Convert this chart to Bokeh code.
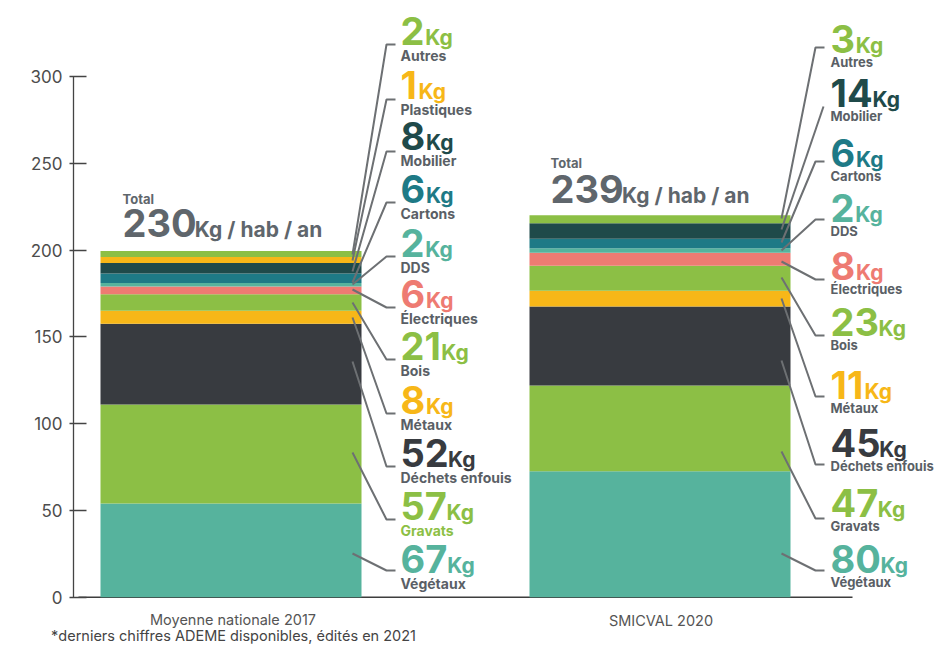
from bokeh.plotting import figure
from bokeh.models import Range1d, LinearAxis, FixedTicker, ColumnDataSource
from bokeh.core.properties import value
from bokeh.embed import file_html
from bokeh.resources import INLINE

# ---------------- data ----------------
group_labels = ["Moyenne nationale 2017", "SMICVAL 2020"]
footnote = "*derniers chiffres ADEME disponibles, édités en 2021"
y_ticks = [0, 50, 100, 150, 200, 250, 300]

# stacked bottom -> top
categories_2017 = ["Végétaux", "Gravats", "Déchets enfouis", "Métaux", "Bois",
                   "Électriques", "DDS", "Cartons", "Mobilier", "Plastiques", "Autres"]
heights_2017 = [54, 57, 46.5, 7.5, 9.5, 4.5, 2, 5.5, 6, 3.5, 3.5]   # drawn heights
labels_2017 = [67, 57, 52, 8, 21, 6, 2, 6, 8, 1, 2]                  # printed Kg
total_2017 = 230

categories_2020 = ["Végétaux", "Gravats", "Déchets enfouis", "Métaux", "Bois",
                   "Électriques", "DDS", "Cartons", "Mobilier", "Autres"]
heights_2020 = [72.5, 49.5, 45.5, 9, 14.5, 7.5, 2.5, 5.5, 9, 4.5]
labels_2020 = [80, 47, 45, 11, 23, 8, 2, 6, 14, 3]
total_2020 = 239

COLORS = {
    "Végétaux": "#56b39d", "Gravats": "#8cbf45", "Déchets enfouis": "#383b40",
    "Métaux": "#f7b718", "Bois": "#8cbf45", "Électriques": "#ee7b72",
    "DDS": "#56b39d", "Cartons": "#1e7a86", "Mobilier": "#1f4a4a",
    "Plastiques": "#f7b718", "Autres": "#8cbf45",
}

# ---------------- layout (page pixels) ----------------
W, H = 935, 646
LEFT = 73
FB = 630                     # expected frame bottom (page px)
Y_ZERO_PX, PX_PER_UNIT = 596.7, 1.7357
FONT = value("Inter")
GRAY = "#5f666c"
NAME_GRAY = "#5a5f66"
LEADER = "#6d7073"
BASE_SHIFT = 0.39   # compensation of the renderer's baseline placement (em)


def vy(page_y):
    """page pixel y -> data value"""
    return (Y_ZERO_PX - page_y) / PX_PER_UNIT


def ty(page_baseline, fs):
    return vy(page_baseline - BASE_SHIFT * fs)


DIGIT_W = {"0": 0.64, "1": 0.42, "2": 0.60, "3": 0.61, "4": 0.63, "5": 0.60,
           "6": 0.62, "7": 0.56, "8": 0.62, "9": 0.62}


def text_w(s, fs):
    return sum(DIGIT_W.get(c, 0.6) for c in s) * fs


bars = [
    dict(cats=categories_2017, h=heights_2017, lab=labels_2017, total=total_2017,
         xc=230.5, w=261, tx=400, label_x=232.5, label_y=625,
         num_y=[573, 520, 467, 414, 360, 308, 257, 203, 150, 99, 45],
         name_dy=15, name_fs=14,
         hook_y=[570, 519, 466, 413, 359, 307, 256, 202, 151, 99, 44],
         end_y=[553, 452, 361, 317, 302, 289, 284, 282, 271, 260, 254],
         bx=352, cx=386, hx=395,
         total_pos=(122, 204, 237), name_colors={"Gravats": "#8cbf45"}),
    dict(cats=categories_2020, h=heights_2020, lab=labels_2020, total=total_2020,
         xc=659.5, w=261, tx=830, label_x=660.5, label_y=626,
         num_y=[573, 517, 457, 399, 336, 280, 222, 167, 107, 53],
         name_dy=14, name_fs=13,
         hook_y=[570, 518, 464, 396, 335, 279, 219, 161, None, 47],
         end_y=[553, 451, 360, 298, 277, 261, 250, 242, 229, 218],
         bx=781, cx=815, hx=824,
         total_pos=(550, 168, 203), name_colors={}),
]

p = figure(width=W, height=H, output_backend="svg", toolbar_location=None,
           x_range=Range1d(LEFT, W), y_range=Range1d(vy(FB), vy(0)),
           x_axis_location=None, y_axis_location=None,
           min_border_left=LEFT, min_border_right=0, min_border_top=0, min_border_bottom=0)
p.outline_line_color = None
p.xgrid.visible = False
p.ygrid.visible = False
p.background_fill_color = "white"
p.border_fill_color = "white"

yaxis = LinearAxis(ticker=FixedTicker(ticks=y_ticks), bounds=(0, 300))
yaxis.axis_line_color = "#444444"
yaxis.axis_line_width = 1.3
yaxis.major_tick_line_color = "#444444"
yaxis.major_tick_line_width = 1.3
yaxis.major_tick_in = 13
yaxis.major_tick_out = 4
yaxis.minor_tick_line_color = None
yaxis.major_label_standoff = 7
yaxis.major_label_text_font = "Inter"
yaxis.major_label_text_font_size = "17px"
yaxis.major_label_text_color = "#4d4d4d"
p.add_layout(yaxis, "left")

# footnote, drawn as the single label of a bare axis below the frame
fax = LinearAxis(ticker=FixedTicker(ticks=[233]), major_label_overrides={233: footnote})
fax.axis_line_color = None
fax.major_tick_line_color = None
fax.minor_tick_line_color = None
fax.major_tick_in = 0
fax.major_tick_out = 0
fax.major_label_standoff = -4
fax.major_label_text_font = "Inter"
fax.major_label_text_font_size = "14.5px"
fax.major_label_text_color = "#444444"
p.add_layout(fax, "below")

# baseline
p.segment(x0=[78], y0=[0], x1=[852], y1=[0], line_color="#3d3d3d", line_width=1.5)

for b in bars:
    bottoms, tops, acc = [], [], 0
    for hh in b["h"]:
        bottoms.append(acc)
        acc += hh
        tops.append(acc)
    src = ColumnDataSource(dict(x=[b["xc"]] * len(b["cats"]), bottom=bottoms, top=tops,
                                color=[COLORS[c] for c in b["cats"]]))
    p.vbar(x="x", width=b["w"], bottom="bottom", top="top", fill_color="color",
           line_color=None, source=src)

    # leaders
    xs, ys = [], []
    for hy, ey in zip(b["hook_y"], b["end_y"]):
        if hy is None:
            xs.append([b["hx"] - 1, b["bx"]])
            ys.append([vy(106), vy(ey)])
        else:
            xs.append([b["hx"], b["cx"], b["bx"]])
            ys.append([vy(hy), vy(hy), vy(ey)])
    p.multi_line(xs=xs, ys=ys, line_color=LEADER, line_width=2)

    # labels
    nums = [str(v) for v in b["lab"]]
    num_fs = 38
    colors = [COLORS[c] for c in b["cats"]]
    p.text(x=[b["tx"]] * len(nums), y=[ty(v, num_fs) for v in b["num_y"]], text=nums,
           text_color=colors, text_font=FONT, text_font_style="bold",
           text_font_size=f"{num_fs}px", text_baseline="alphabetic", text_align="left")
    p.text(x=[b["tx"] + text_w(n, num_fs) + 2 for n in nums],
           y=[ty(v, 21) for v in b["num_y"]], text=["Kg"] * len(nums),
           text_color=colors, text_font=FONT, text_font_style="bold",
           text_font_size="21px", text_baseline="alphabetic", text_align="left")
    nfs = b["name_fs"]
    p.text(x=[b["tx"]] * len(nums), y=[ty(v + b["name_dy"], nfs) for v in b["num_y"]],
           text=b["cats"], text_color=[b["name_colors"].get(c, NAME_GRAY) for c in b["cats"]],
           text_font=FONT, text_font_style="bold", text_font_size=f"{nfs}px",
           text_baseline="alphabetic", text_align="left")

    # totals
    tx, ty1, ty2 = b["total_pos"]
    tot = str(b["total"])
    p.text(x=[tx], y=[ty(ty1, 13)], text=["Total"], text_color=GRAY, text_font=FONT,
           text_font_style="bold", text_font_size="13px", text_baseline="alphabetic")
    p.text(x=[tx], y=[ty(ty2, 38)], text=[tot], text_color=GRAY, text_font=FONT,
           text_font_style="bold", text_font_size="38px", text_baseline="alphabetic")
    p.text(x=[tx + text_w(tot, 38) + 2], y=[ty(ty2, 21)], text=["Kg / hab / an"],
           text_color=GRAY, text_font=FONT, text_font_style="bold",
           text_font_size="21px", text_baseline="alphabetic")

# group names under the bars
p.text(x=[b["label_x"] for b in bars], y=[ty(b["label_y"], 14.5) for b in bars],
       text=group_labels, text_color="#555555", text_font=FONT, text_font_size="14.5px",
       text_align="center", text_baseline="alphabetic")

open("out.html", "w").write(file_html(p, INLINE))
